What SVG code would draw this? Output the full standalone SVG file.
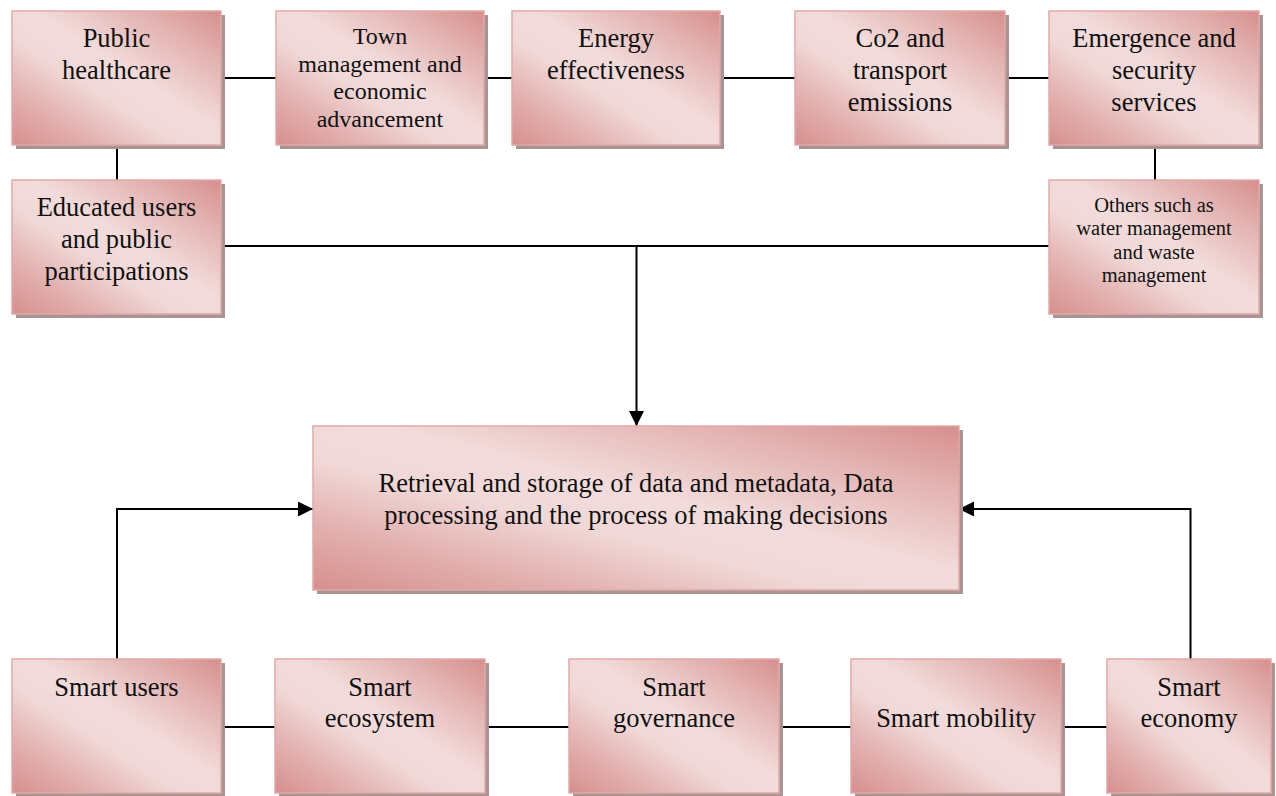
<svg xmlns="http://www.w3.org/2000/svg" width="1276" height="796" viewBox="0 0 1276 796">
<defs>
<linearGradient id="g" x1="1" y1="0" x2="0" y2="1">
<stop offset="0" stop-color="#d68f8d"/>
<stop offset="0.2" stop-color="#e3b3b2"/>
<stop offset="0.45" stop-color="#f2dcdb"/>
<stop offset="0.6" stop-color="#f0d8d7"/>
<stop offset="0.8" stop-color="#e2b0af"/>
<stop offset="1" stop-color="#d68f8d"/>
</linearGradient>
<marker id="ah" markerUnits="userSpaceOnUse" markerWidth="16" markerHeight="16" refX="15" refY="7.5" orient="auto">
<path d="M0,0 L15,7.5 L0,15 z" fill="#000"/>
</marker>
<style>
.box{fill:url(#g);stroke:#e2a9a8;stroke-width:1.5}
.sh{fill:#a99494}
.t{font-family:"Liberation Serif","Times New Roman",serif;fill:#111;text-anchor:middle}
.l{font-size:26.5px}
.m{font-size:24px}
.s{font-size:20.5px}
.c{stroke:#000;stroke-width:2;fill:none}
</style>
</defs>
<rect width="1276" height="796" fill="#fff"/>
<g id="connectors">
<line class="c" x1="221" y1="78" x2="276" y2="78"/>
<line class="c" x1="484" y1="78" x2="512" y2="78"/>
<line class="c" x1="720" y1="78" x2="795" y2="78"/>
<line class="c" x1="1005" y1="78" x2="1049" y2="78"/>
<line class="c" x1="117" y1="145" x2="117" y2="180"/>
<line class="c" x1="1155" y1="145" x2="1155" y2="180"/>
<line class="c" x1="221" y1="246" x2="1049" y2="246"/>
<path class="c" d="M636.5,246 V426" marker-end="url(#ah)"/>
<path class="c" d="M117,659 V509 H313" marker-end="url(#ah)"/>
<path class="c" d="M1190.5,659 V509 H959" marker-end="url(#ah)"/>
<line class="c" x1="221" y1="727" x2="275" y2="727"/>
<line class="c" x1="485" y1="727" x2="569" y2="727"/>
<line class="c" x1="779" y1="727" x2="851" y2="727"/>
<line class="c" x1="1061" y1="727" x2="1107" y2="727"/>
</g>
<g id="n1"><rect class="sh" x="16" y="15" width="209" height="134"/><rect class="box" x="12" y="11" width="209" height="134"/>
<text class="t l" x="116.5" y="47">Public</text><text class="t l" x="116.5" y="79">healthcare</text></g>
<g id="n2"><rect class="sh" x="280" y="15" width="208" height="134"/><rect class="box" x="276" y="11" width="208" height="134"/>
<text class="t m" x="380" y="44">Town</text><text class="t m" x="380" y="71.5">management and</text><text class="t m" x="380" y="99">economic</text><text class="t m" x="380" y="126.5">advancement</text></g>
<g id="n3"><rect class="sh" x="516" y="15" width="208" height="134"/><rect class="box" x="512" y="11" width="208" height="134"/>
<text class="t l" x="616" y="47">Energy</text><text class="t l" x="616" y="79">effectiveness</text></g>
<g id="n4"><rect class="sh" x="799" y="15" width="210" height="134"/><rect class="box" x="795" y="11" width="210" height="134"/>
<text class="t l" x="900" y="47">Co2 and</text><text class="t l" x="900" y="79">transport</text><text class="t l" x="900" y="111">emissions</text></g>
<g id="n5"><rect class="sh" x="1053" y="15" width="210" height="134"/><rect class="box" x="1049" y="11" width="210" height="134"/>
<text class="t l" x="1154" y="47">Emergence and</text><text class="t l" x="1154" y="79">security</text><text class="t l" x="1154" y="111">services</text></g>
<g id="n6"><rect class="sh" x="16" y="184" width="209" height="134"/><rect class="box" x="12" y="180" width="209" height="134"/>
<text class="t l" x="116.5" y="216">Educated users</text><text class="t l" x="116.5" y="248">and public</text><text class="t l" x="116.5" y="280">participations</text></g>
<g id="n7"><rect class="sh" x="1053" y="184" width="210" height="134"/><rect class="box" x="1049" y="180" width="210" height="134"/>
<text class="t s" x="1154" y="212">Others such as</text><text class="t s" x="1154" y="235">water management</text><text class="t s" x="1154" y="258.5">and waste</text><text class="t s" x="1154" y="282">management</text></g>
<g id="center"><rect class="sh" x="317" y="430" width="646" height="164"/><rect class="box" x="313" y="426" width="646" height="164"/>
<text class="t l" x="636" y="492">Retrieval and storage of data and metadata, Data</text><text class="t l" x="636" y="524">processing and the process of making decisions</text></g>
<g id="b1"><rect class="sh" x="16" y="663" width="209" height="134"/><rect class="box" x="12" y="659" width="209" height="134"/>
<text class="t l" x="116.5" y="696">Smart users</text></g>
<g id="b2"><rect class="sh" x="279" y="663" width="210" height="134"/><rect class="box" x="275" y="659" width="210" height="134"/>
<text class="t l" x="380" y="696">Smart</text><text class="t l" x="380" y="727">ecosystem</text></g>
<g id="b3"><rect class="sh" x="573" y="663" width="210" height="134"/><rect class="box" x="569" y="659" width="210" height="134"/>
<text class="t l" x="674" y="696">Smart</text><text class="t l" x="674" y="727">governance</text></g>
<g id="b4"><rect class="sh" x="855" y="663" width="210" height="134"/><rect class="box" x="851" y="659" width="210" height="134"/>
<text class="t l" x="956" y="727">Smart mobility</text></g>
<g id="b5"><rect class="sh" x="1111" y="663" width="164" height="134"/><rect class="box" x="1107" y="659" width="164" height="134"/>
<text class="t l" x="1189" y="696">Smart</text><text class="t l" x="1189" y="727">economy</text></g>
</svg>
